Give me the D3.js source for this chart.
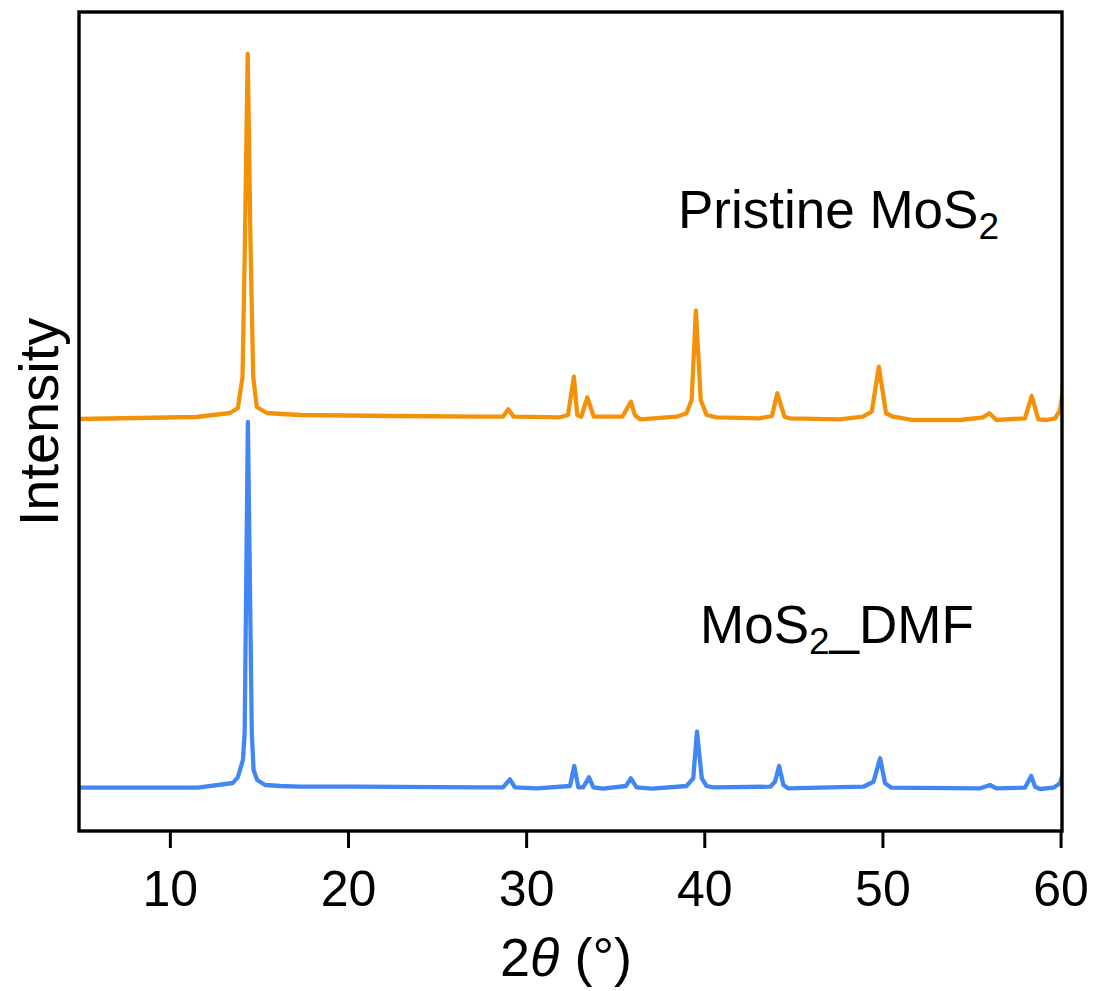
<!DOCTYPE html>
<html>
<head>
<meta charset="utf-8">
<script src="https://cdn.jsdelivr.net/npm/d3@7"></script>
<style>
  html, body { margin: 0; padding: 0; background: #fff; }
  svg { display: block; font-family: "Liberation Sans", Arial, sans-serif; }
</style>
</head>
<body>
<svg id="chart" width="1093" height="991"></svg>
<script>
// XRD patterns, 2θ in degrees vs. intensity (a.u.)
const twoThetaDMF = [4.9, 11.57, 13.54, 13.82, 14.1, 14.2, 14.38, 14.6, 14.7, 14.9, 15.35, 16.2, 17.3, 20.4,
  27.4, 28.7, 29.09, 29.37, 30.6, 32.46, 32.7, 32.93, 33.2, 33.53, 33.77, 34.3, 35.6, 35.88, 36.2, 37.1,
  39.0, 39.38, 39.59, 39.86, 40.13, 40.5, 43.7, 43.97, 44.2, 44.44, 44.7, 48.93, 49.5, 49.87, 50.15, 50.5,
  55.5, 56.04, 56.4, 58.0, 58.35, 58.57, 58.85, 59.6, 59.97, 60.2];
const intensityDMF = [43.3, 43.3, 48, 54, 71, 98, 409, 98, 61, 51, 46, 45, 44.3, 44.3,
  43.7, 43.7, 51.7, 43.7, 42.7, 45, 65, 43.7, 43.7, 53.7, 43.7, 42.3, 45, 52.7, 43.7, 42.3,
  45, 52.7, 99.3, 52.7, 45, 43.7, 44.3, 49.3, 65, 46, 42.7, 44.3, 49.3, 72.7, 47.7, 43.3,
  42.7, 46, 42.7, 43.3, 55, 44.3, 42, 43.3, 47.7, 62];

const twoThetaPristine = [4.9, 11.5, 13.37, 13.82, 14.08, 14.21, 14.37, 14.53, 14.68, 14.88, 15.45, 16.3, 17.3, 22.5,
  27.4, 28.7, 29.0, 29.3, 31.9, 32.35, 32.68, 32.87, 33.1, 33.43, 33.8, 35.4, 35.88, 36.1, 36.4, 38.45,
  39.0, 39.29, 39.53, 39.8, 40.13, 40.7, 43.1, 43.8, 44.1, 44.5, 44.8, 47.6, 48.9, 49.4, 49.8, 50.2, 50.6,
  51.7, 54.36, 55.66, 56.0, 56.4, 58.0, 58.38, 58.75, 59.2, 59.7, 59.97, 60.2];
const intensityPristine = [42, 44, 48, 53, 84, 214, 407, 214, 84, 54, 48, 47, 46, 45,
  44.3, 44.3, 51.7, 44.3, 43.7, 46, 84.3, 46, 44.3, 63.7, 44.3, 44.3, 59.3, 46, 41.7, 44.3,
  47.7, 61, 150.3, 61, 46, 43.7, 42.7, 45, 67.7, 44.3, 42.7, 41.7, 44.3, 49.3, 94.3, 47.7, 44.3,
  41, 41, 43.7, 47.7, 41, 42.7, 65, 41.7, 41, 42.7, 51, 80];

// vertical offset used to stack the pristine trace above the DMF trace
const pristineOffset = 370;

const xTicks = [10, 20, 30, 40, 50, 60];

const svg = d3.select("#chart");
const W = 1093, H = 991;
const margin = { left: 79, right: W - 1062, top: 12, bottom: H - 831 };

const x = d3.scaleLinear().domain([4.9, 60.08]).range([margin.left, W - margin.right]);
const y = d3.scaleLinear().domain([0, 819]).range([H - margin.bottom, margin.top]);

svg.append("defs").append("clipPath").attr("id", "plot-clip")
  .append("rect")
  .attr("x", margin.left).attr("y", margin.top)
  .attr("width", W - margin.right - margin.left)
  .attr("height", H - margin.bottom - margin.top);

const line = d3.line().x(d => x(d[0])).y(d => y(d[1]));

const plot = svg.append("g").attr("clip-path", "url(#plot-clip)");

plot.append("path")
  .datum(twoThetaDMF.map((t, i) => [t, intensityDMF[i]]))
  .attr("d", line)
  .attr("fill", "none")
  .attr("stroke", "#4286f4")
  .attr("stroke-width", 4.3)
  .attr("stroke-linejoin", "round");

plot.append("path")
  .datum(twoThetaPristine.map((t, i) => [t, intensityPristine[i] + pristineOffset]))
  .attr("d", line)
  .attr("fill", "none")
  .attr("stroke", "#f39208")
  .attr("stroke-width", 4.3)
  .attr("stroke-linejoin", "round");

// frame
svg.append("rect")
  .attr("x", margin.left).attr("y", margin.top)
  .attr("width", W - margin.right - margin.left)
  .attr("height", H - margin.bottom - margin.top)
  .attr("fill", "none")
  .attr("stroke", "#000")
  .attr("stroke-width", 3.4);

// bottom axis
const xAxis = d3.axisBottom(x).tickValues(xTicks).tickSize(17).tickPadding(22).tickFormat(d3.format("d"));
const gx = svg.append("g")
  .attr("transform", `translate(0,${H - margin.bottom})`)
  .call(xAxis);
gx.select(".domain").remove();
gx.selectAll(".tick line").attr("stroke", "#000").attr("stroke-width", 3);
gx.selectAll(".tick text")
  .attr("fill", "#000")
  .style("font-family", "'Liberation Sans', Arial, sans-serif")
  .style("font-size", "50px");

// axis titles
const xTitle = svg.append("text")
  .attr("x", 566).attr("y", 976)
  .attr("text-anchor", "middle")
  .style("font-size", "54px")
  .attr("fill", "#000");
xTitle.append("tspan").text("2");
xTitle.append("tspan").style("font-style", "italic").text("θ");
xTitle.append("tspan").text(" (°)");

svg.append("text")
  .attr("transform", "translate(58,422) rotate(-90)")
  .attr("text-anchor", "middle")
  .style("font-size", "56px")
  .attr("fill", "#000")
  .text("Intensity");

// trace labels
const lab1 = svg.append("text")
  .attr("x", 678).attr("y", 228)
  .style("font-size", "53px")
  .attr("fill", "#000");
lab1.append("tspan").text("Pristine MoS");
lab1.append("tspan").attr("dy", 11).style("font-size", "37px").text("2");

const lab2 = svg.append("text")
  .attr("x", 700).attr("y", 643)
  .style("font-size", "53px")
  .attr("fill", "#000");
lab2.append("tspan").text("MoS");
lab2.append("tspan").attr("dy", 11).style("font-size", "37px").text("2");
lab2.append("tspan").attr("dy", -11).text("_DMF");
</script>
</body>
</html>
